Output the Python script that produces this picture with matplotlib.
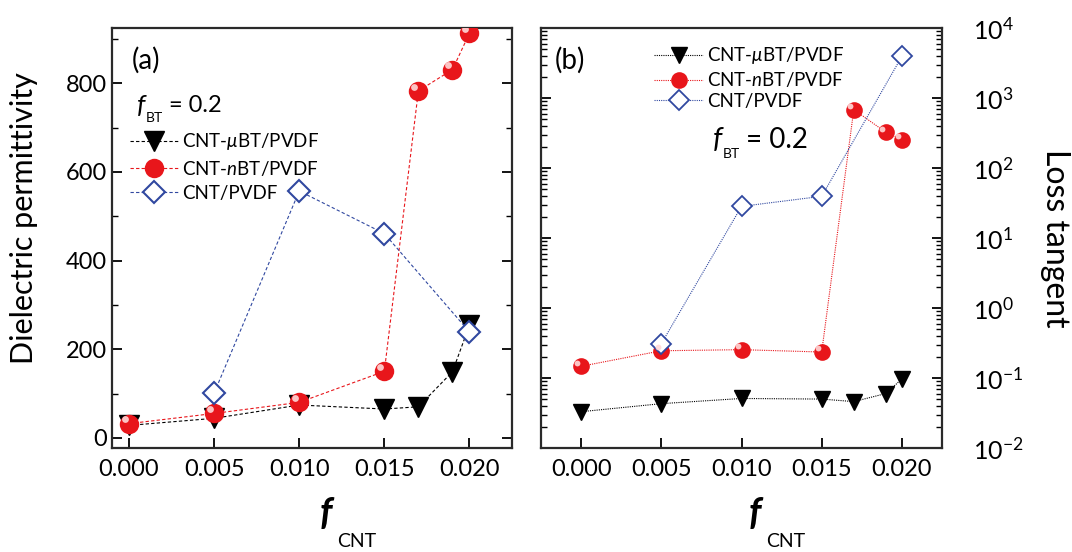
import matplotlib
matplotlib.use("Agg")
import matplotlib.pyplot as plt
from matplotlib.transforms import offset_copy
from matplotlib.ticker import MultipleLocator, LogLocator, NullFormatter

plt.rcParams['font.family'] = ['Lato', 'DejaVu Sans']
plt.rcParams['mathtext.fontset'] = 'custom'
plt.rcParams['mathtext.rm'] = 'Lato'
plt.rcParams['mathtext.it'] = 'Lato:italic'

# fracciones de CNT
x_bt = [0.000, 0.005, 0.010, 0.015, 0.017, 0.019, 0.020]
x_cnt = [0.005, 0.010, 0.015, 0.020]

# permitividad dielectrica
eps_ubt = [28, 44, 74, 65, 70, 149, 254]
eps_nbt = [32, 55, 80, 150, 783, 831, 913]
eps_cnt = [101, 557, 461, 239]

# tangente de perdidas
tan_ubt = [0.033, 0.043, 0.051, 0.050, 0.046, 0.060, 0.097]
tan_nbt = [0.147, 0.245, 0.254, 0.235, 681, 324, 254]
tan_cnt = [0.309, 28.3, 39.4, 3936]

labels = ["CNT-$\\mu$BT/PVDF", "CNT-$n$BT/PVDF", "CNT/PVDF"]
xticks = [0.000, 0.005, 0.010, 0.015, 0.020]

negro = "black"
rojo = "#e8161b"
azul = "#3048a0"

W, H = 1072, 552
fig = plt.figure(figsize=(W / 100, H / 100), dpi=100)
ax1 = fig.add_axes([112 / W, 104 / H, 400 / W, 420 / H])
ax2 = fig.add_axes([541 / W, 104 / H, 401 / W, 420 / H])


def px(x, y):
    # pixeles (origen arriba a la izquierda) -> fraccion de figura
    return x / W, 1 - y / H


def f_sub(xf, yf, sub, xs, ys, size_f, size_s, resto=None, xr=None, yr=None,
          size_r=None, bold=False):
    fig.text(*px(xf, yf), "f", fontsize=size_f, fontstyle='italic',
             fontweight='bold' if bold else 'normal', va='baseline', zorder=10)
    fig.text(*px(xs, ys), sub, fontsize=size_s, va='baseline', zorder=10)
    if resto:
        fig.text(*px(xr, yr), resto, fontsize=size_r, va='baseline', zorder=10)


def esferas(ax, x, y, ms):
    # brillo blanco para dar aspecto de esfera
    tr = offset_copy(ax.transData, fig=fig, x=-ms * 0.22, y=ms * 0.22, units='points')
    ax.plot(x, y, 'o', ms=ms * 0.35, color='#ffd8d8', mec='none', alpha=0.9,
            transform=tr, zorder=5)


def estilo(ax):
    for s in ax.spines.values():
        s.set_linewidth(1.6)
        s.set_color('#2a2a2a')
    ax.set_xticks(xticks)
    ax.set_xticklabels(["%.3f" % v for v in xticks])
    ax.tick_params(axis='both', which='major', direction='in', length=7, width=1.3,
                   labelsize=17)
    ax.tick_params(axis='both', which='minor', direction='in', length=4, width=1.0)
    ax.tick_params(axis='x', top=False, pad=8)


# (a) permitividad
ls1 = (0, (3, 2))
ax1.plot(x_bt, eps_ubt, ls=ls1, lw=0.8, color=negro, marker='v', ms=15, mec=negro,
         label=labels[0], zorder=3)
ax1.plot(x_bt, eps_nbt, ls=ls1, lw=0.8, color=rojo, marker='o', ms=14, mec='none',
         label=labels[1], zorder=4)
esferas(ax1, x_bt, eps_nbt, 14)
ax1.plot(x_cnt, eps_cnt, ls=ls1, lw=0.8, color=azul, marker='D', ms=11, mfc='white',
         mec=azul, mew=1.5, label=labels[2], zorder=4)
ax1.set_xlim(-0.001, 0.0225)
ax1.set_ylim(-23, 925)
ax1.yaxis.set_major_locator(MultipleLocator(200))
ax1.yaxis.set_minor_locator(MultipleLocator(100))
estilo(ax1)
ax1.tick_params(axis='y', which='both', right=True)
ax1.set_ylabel("Dielectric permittivity", fontsize=22)
ax1.yaxis.set_label_coords(-0.185, 0.548)
ax1.text(0.05, 0.955, "(a)", transform=ax1.transAxes, fontsize=20, va='top')
ax1.legend(loc='upper left', bbox_to_anchor=(0.012, 0.785), frameon=False,
           fontsize=13.5, handlelength=2.6, handletextpad=0.2, labelspacing=0.35,
           borderaxespad=0.3)

# (b) tangente de perdidas
ls2 = (0, (1, 1))
ax2.plot(x_bt, tan_ubt, ls=ls2, lw=0.8, color=negro, marker='v', ms=12, mec=negro,
         label=labels[0], zorder=3)
ax2.plot(x_bt, tan_nbt, ls=ls2, lw=0.8, color=rojo, marker='o', ms=12, mec='none',
         label=labels[1], zorder=4)
esferas(ax2, x_bt, tan_nbt, 12)
ax2.plot(x_cnt, tan_cnt, ls=ls2, lw=0.8, color=azul, marker='D', ms=10, mfc='white',
         mec=azul, mew=1.3, label=labels[2], zorder=4)
ax2.set_yscale('log')
ax2.set_xlim(-0.0025, 0.0225)
ax2.set_ylim(1e-2, 1e4)
ax2.yaxis.set_major_locator(LogLocator(base=10, numticks=10))
ax2.yaxis.set_minor_locator(LogLocator(base=10, subs=range(2, 10), numticks=10))
ax2.yaxis.set_minor_formatter(NullFormatter())
estilo(ax2)
ax2.yaxis.tick_right()
ax2.tick_params(axis='y', which='both', left=True, right=True, labelsize=18, pad=22)
ax2.yaxis.set_label_position('right')
ax2.set_ylabel("Loss tangent", fontsize=23, rotation=270, labelpad=34)
ax2.text(0.035, 0.955, "(b)", transform=ax2.transAxes, fontsize=20, va='top')
ax2.legend(loc='upper left', bbox_to_anchor=(0.25, 0.99), frameon=False,
           fontsize=13.5, handlelength=2.6, handletextpad=0.2, labelspacing=0.2,
           borderaxespad=0.3)

# f_BT = 0.2 en cada panel
f_sub(137, 113, "BT", 146, 122, 19, 10, "= 0.2", 169, 112, 17)
f_sub(713, 148, "BT", 723, 158, 21, 10, "= 0.2", 746, 148, 20)

# f_CNT bajo cada panel
f_sub(320, 525, "CNT", 337, 547, 27, 14, bold=True)
f_sub(749, 525, "CNT", 766, 547, 27, 14, bold=True)

fig.savefig("out.png", dpi=100)
